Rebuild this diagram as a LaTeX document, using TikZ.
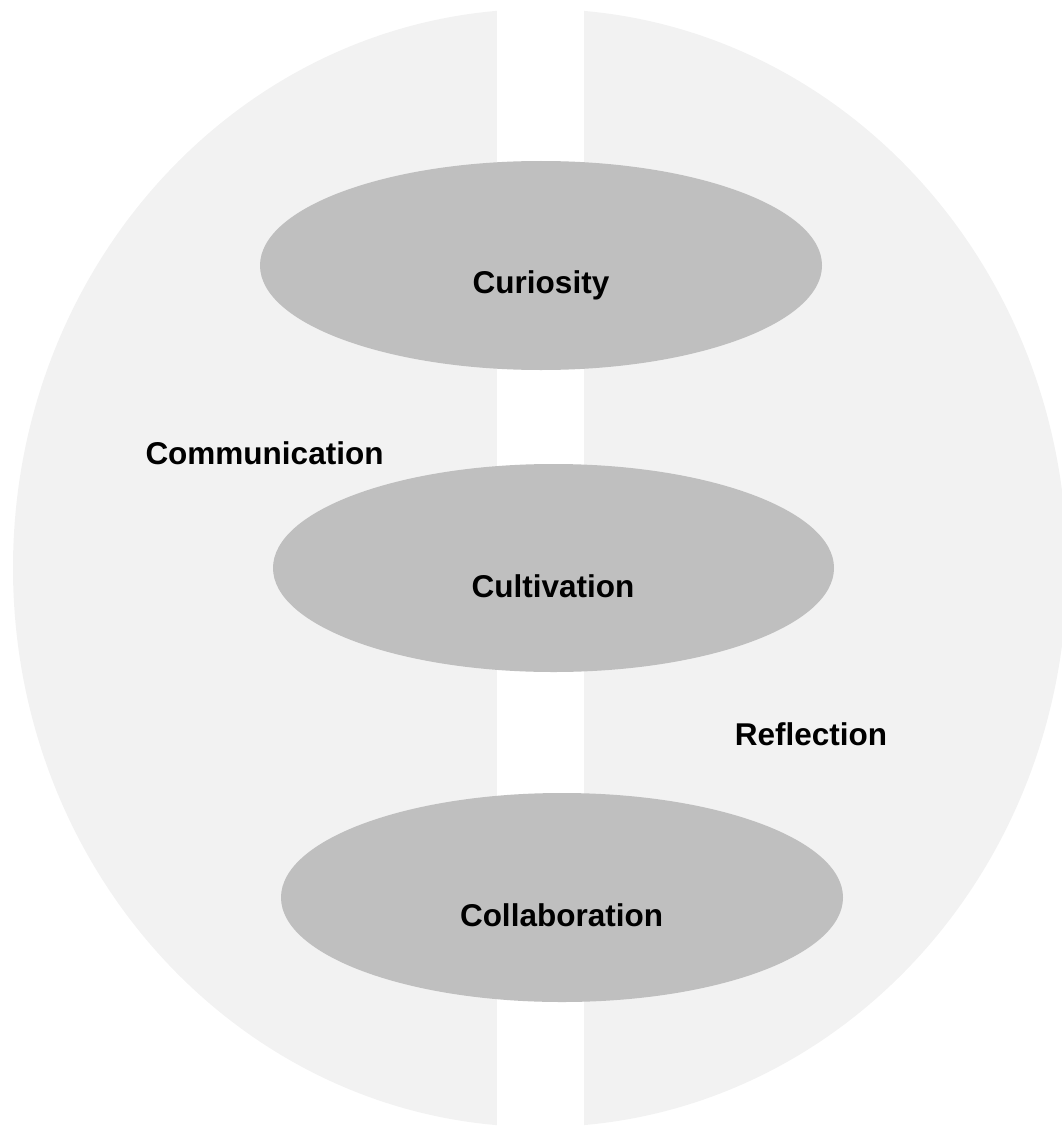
\documentclass[tikz,border=0pt]{standalone}
\usepackage{fontspec}
\setmainfont{Liberation Sans}
\usepackage{xcolor}
\usepackage{tikz}
\usetikzlibrary{shapes.geometric}
\definecolor{ringgray}{HTML}{F2F2F2}
\definecolor{discgray}{HTML}{BFBFBF}
\tikzset{
    ring/.style = {fill=ringgray, draw=none},
    gap/.style = {fill=white, draw=none},
    disc/.style = {ellipse, fill=discgray, draw=none, inner sep=0pt, minimum width=562pt, minimum height=209pt},
    word/.style = {anchor=base, inner sep=0pt, font=\fontsize{31.5}{38}\selectfont\bfseries}
}

\begin{document}
\begin{tikzpicture}[x=1pt, y=-1pt]
    \useasboundingbox (0,0) rectangle (1061,1126);

    % split background
    \fill[ring] (540,568) ellipse [x radius=527pt, y radius=559pt];
    \fill[gap] (497,-2) rectangle (584,1128);

    % the three stages
    \node [disc] (curiosity) at (541,265.5) {};
    \node [disc, minimum width=561pt, minimum height=208pt] (cultivation) at (553.5,568) {};
    \node [disc] (collaboration) at (562,897.5) {};

    \node [word] (curiositytext) at (541,293) {Curiosity};
    \node [word] (cultivationtext) at (553,597) {Cultivation};
    \node [word] (collaborationtext) at (561.5,926) {Collaboration};

    % side labels
    \node [word] (communication) at (264.5,464) {Communication};
    \node [word] (reflection) at (811,745) {Reflection};
\end{tikzpicture}
\end{document}
